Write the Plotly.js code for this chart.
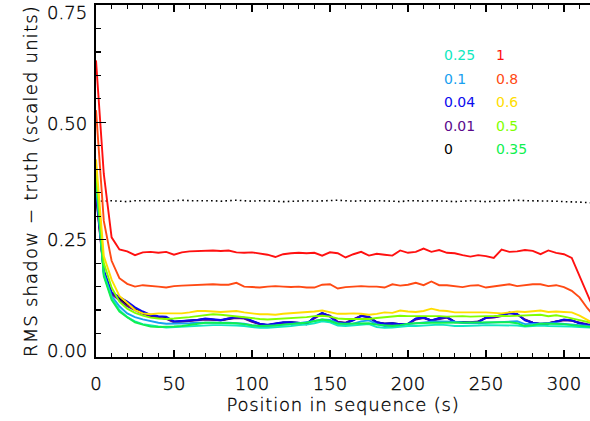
<!DOCTYPE html>
<html>
<head>
<meta charset="utf-8">
<script src="https://cdn.plot.ly/plotly-3.0.1.min.js"></script>
<style>
  html, body { margin: 0; padding: 0; background: #fff; }
  #chart { width: 590px; height: 421px; }
  .xtitle { letter-spacing: 0.8px; }
  .ytitle { letter-spacing: 1.2px; }
  svg text[style*="font-weight: 300"] { stroke: #000; stroke-width: 0.35px; }
</style>
</head>
<body>
<div id="chart"></div>
<script>
// Position in sequence (s)
const positions = [0,5,10,15,20,25,30,35,40,45,50,55,60,65,70,75,80,85,90,95,100,105,110,115,120,125,130,135,140,145,150,155,160,165,170,175,180,185,190,195,200,205,210,215,220,225,230,235,240,245,250,255,260,265,270,275,280,285,290,295,300,305,310,315,320];

// Reference level (dotted black line)
const referenceLevel = [0.333,0.332,0.333,0.332,0.331,0.333,0.333,0.334,0.333,0.332,0.333,0.334,0.333,0.333,0.334,0.333,0.332,0.333,0.334,0.333,0.332,0.333,0.333,0.332,0.331,0.332,0.333,0.333,0.332,0.333,0.333,0.334,0.333,0.332,0.333,0.332,0.333,0.333,0.332,0.331,0.333,0.333,0.332,0.333,0.333,0.332,0.331,0.332,0.333,0.332,0.331,0.332,0.333,0.333,0.334,0.333,0.333,0.332,0.333,0.332,0.331,0.331,0.330,0.329,0.328];

// Series, keyed by parameter value
const s0 = [0.350,0.182,0.136,0.123,0.112,0.102,0.094,0.088,0.086,0.083,0.075,0.076,0.078,0.079,0.081,0.080,0.078,0.081,0.084,0.083,0.076,0.070,0.068,0.071,0.073,0.074,0.072,0.071,0.084,0.093,0.087,0.074,0.072,0.079,0.088,0.085,0.074,0.071,0.072,0.070,0.070,0.081,0.084,0.078,0.082,0.085,0.075,0.074,0.073,0.075,0.084,0.085,0.088,0.095,0.091,0.079,0.073,0.070,0.072,0.076,0.079,0.078,0.072,0.069,0.067];
const s001 = [0.345,0.180,0.134,0.120,0.108,0.100,0.092,0.087,0.085,0.081,0.074,0.075,0.077,0.078,0.080,0.079,0.078,0.082,0.083,0.082,0.075,0.070,0.068,0.071,0.073,0.073,0.072,0.070,0.082,0.092,0.088,0.075,0.073,0.080,0.088,0.084,0.073,0.071,0.071,0.069,0.070,0.080,0.083,0.077,0.081,0.084,0.074,0.074,0.074,0.076,0.083,0.084,0.087,0.094,0.091,0.080,0.073,0.071,0.072,0.075,0.078,0.077,0.073,0.070,0.068];
const s004 = [0.360,0.185,0.138,0.128,0.118,0.106,0.097,0.090,0.087,0.086,0.076,0.077,0.078,0.079,0.082,0.081,0.079,0.082,0.085,0.084,0.077,0.071,0.069,0.072,0.074,0.074,0.073,0.070,0.085,0.094,0.086,0.073,0.072,0.078,0.087,0.086,0.074,0.071,0.072,0.070,0.071,0.082,0.084,0.078,0.083,0.085,0.075,0.074,0.073,0.074,0.084,0.086,0.089,0.093,0.092,0.078,0.073,0.070,0.071,0.076,0.080,0.078,0.072,0.069,0.067];
const s01 = [0.370,0.178,0.130,0.108,0.093,0.085,0.080,0.076,0.073,0.071,0.071,0.071,0.072,0.073,0.073,0.074,0.073,0.073,0.072,0.071,0.068,0.066,0.066,0.067,0.069,0.070,0.072,0.074,0.077,0.080,0.079,0.072,0.070,0.071,0.076,0.078,0.070,0.066,0.066,0.067,0.070,0.072,0.073,0.075,0.076,0.076,0.075,0.073,0.072,0.072,0.073,0.074,0.074,0.076,0.076,0.070,0.071,0.071,0.072,0.072,0.071,0.070,0.068,0.066,0.065];
const s025 = [0.380,0.175,0.126,0.100,0.085,0.076,0.070,0.067,0.065,0.063,0.064,0.065,0.066,0.067,0.068,0.068,0.068,0.068,0.067,0.066,0.064,0.062,0.062,0.063,0.065,0.066,0.068,0.069,0.072,0.076,0.074,0.067,0.066,0.067,0.069,0.070,0.064,0.062,0.063,0.065,0.066,0.066,0.067,0.069,0.069,0.068,0.066,0.066,0.066,0.067,0.068,0.068,0.068,0.068,0.067,0.065,0.066,0.067,0.066,0.066,0.066,0.065,0.064,0.063,0.062];
const s035 = [0.390,0.172,0.122,0.097,0.085,0.074,0.069,0.065,0.064,0.064,0.065,0.066,0.068,0.071,0.073,0.073,0.073,0.073,0.072,0.070,0.067,0.066,0.066,0.067,0.069,0.071,0.072,0.073,0.076,0.080,0.077,0.071,0.071,0.071,0.071,0.072,0.069,0.067,0.066,0.068,0.071,0.072,0.073,0.073,0.073,0.073,0.073,0.073,0.073,0.073,0.073,0.073,0.074,0.074,0.072,0.066,0.068,0.071,0.071,0.071,0.070,0.068,0.066,0.064,0.063];
const s05 = [0.400,0.200,0.148,0.118,0.103,0.094,0.088,0.084,0.082,0.081,0.082,0.083,0.085,0.087,0.089,0.091,0.090,0.088,0.087,0.085,0.082,0.081,0.080,0.081,0.081,0.082,0.083,0.085,0.087,0.088,0.086,0.082,0.081,0.081,0.082,0.081,0.083,0.085,0.086,0.088,0.087,0.087,0.088,0.088,0.087,0.086,0.087,0.087,0.086,0.087,0.087,0.087,0.088,0.087,0.088,0.088,0.089,0.090,0.087,0.089,0.086,0.082,0.078,0.074,0.071];
const s06 = [0.421,0.215,0.165,0.130,0.115,0.100,0.093,0.091,0.093,0.093,0.094,0.093,0.095,0.098,0.098,0.097,0.096,0.097,0.098,0.095,0.093,0.091,0.091,0.090,0.092,0.093,0.095,0.095,0.097,0.099,0.096,0.092,0.092,0.093,0.092,0.090,0.092,0.095,0.094,0.099,0.097,0.096,0.098,0.103,0.099,0.098,0.095,0.095,0.096,0.095,0.095,0.094,0.093,0.095,0.097,0.096,0.097,0.099,0.096,0.097,0.096,0.095,0.088,0.078,0.070];
const s08 = [0.526,0.290,0.205,0.168,0.156,0.150,0.153,0.152,0.150,0.148,0.151,0.152,0.153,0.154,0.154,0.155,0.154,0.154,0.158,0.150,0.149,0.148,0.150,0.151,0.150,0.149,0.150,0.148,0.148,0.154,0.155,0.146,0.149,0.150,0.151,0.150,0.150,0.148,0.155,0.152,0.154,0.158,0.153,0.161,0.153,0.153,0.151,0.149,0.152,0.153,0.148,0.150,0.152,0.155,0.151,0.153,0.155,0.155,0.151,0.153,0.149,0.141,0.127,0.104,0.085];
const s1 = [0.632,0.390,0.255,0.229,0.225,0.217,0.223,0.224,0.222,0.224,0.218,0.223,0.225,0.226,0.226,0.227,0.226,0.227,0.223,0.222,0.223,0.220,0.218,0.213,0.219,0.221,0.222,0.221,0.222,0.216,0.223,0.221,0.212,0.219,0.224,0.216,0.220,0.218,0.216,0.227,0.222,0.224,0.231,0.224,0.228,0.222,0.221,0.217,0.214,0.217,0.215,0.211,0.229,0.224,0.225,0.228,0.226,0.219,0.227,0.222,0.219,0.211,0.172,0.133,0.095];

// Legend labels and colours (drawing order)
const seriesLabels = ['0', '0.01', '0.04', '0.1', '0.25', '0.35', '0.5', '0.6', '0.8', '1'];
const seriesData = [s0, s001, s004, s01, s025, s035, s05, s06, s08, s1];
const seriesColors = ['#000000', '#5a0a8c', '#0a0aee', '#18a0f0', '#10e8c0', '#10f050', '#80ff00', '#ffdd00', '#ff4a14', '#ff1010'];

// Legend layout: column 1 (top to bottom), column 2 (top to bottom)
const legendCol1 = ['0.25', '0.1', '0.04', '0.01', '0'];
const legendCol2 = ['1', '0.8', '0.6', '0.5', '0.35'];

// Y tick labels
const yTickVals = [0, 0.25, 0.5, 0.75];
const yTickText = ['0.00', '0.25', '0.50', '0.75'];
const yTickShift = [7, 0, -1, -7];

const FONT = 'DejaVu Sans';

const traces = [];
traces.push({
  x: positions, y: referenceLevel, type: 'scatter', mode: 'lines',
  line: { color: '#000', width: 1.6, dash: '1.6px,3.2px' },
  hoverinfo: 'skip', showlegend: false
});
seriesData.forEach((d, i) => {
  traces.push({
    x: positions, y: d, type: 'scatter', mode: 'lines',
    name: seriesLabels[i],
    line: { color: seriesColors[i], width: 1.9 },
    showlegend: false
  });
});

const annotations = [];
const colX = [0.70, 0.806];
const rowY = [0.857, 0.790, 0.724, 0.656, 0.590];
[legendCol1, legendCol2].forEach((col, c) => {
  col.forEach((lab, r) => {
    const idx = seriesLabels.indexOf(lab);
    annotations.push({
      xref: 'paper', yref: 'paper', x: colX[c], y: rowY[r],
      xanchor: 'left', yanchor: 'middle', showarrow: false,
      text: lab, font: { family: FONT, size: 14, color: seriesColors[idx], weight: 400 }
    });
  });
});
yTickVals.forEach((v, i) => {
  annotations.push({
    xref: 'paper', yref: 'y', x: 0, y: v, xshift: -7, yshift: yTickShift[i],
    xanchor: 'right', yanchor: 'middle', showarrow: false,
    text: yTickText[i], font: { family: FONT, size: 18, color: '#000', weight: 300 }
  });
});

const layout = {
  width: 590, height: 421,
  margin: { l: 96, r: 0, t: 5, b: 64, pad: 0 },
  paper_bgcolor: '#fff', plot_bgcolor: '#fff',
  showlegend: false,
  font: { family: FONT, size: 18, color: '#000', weight: 300 },
  xaxis: {
    range: [0, 316.7], autorange: false,
    tickmode: 'linear', tick0: 0, dtick: 50,
    ticks: 'inside', ticklen: 7, tickwidth: 1.5, tickcolor: '#000',
    minor: { ticks: 'inside', dtick: 10, ticklen: 4, tickwidth: 1.2, tickcolor: '#000' },
    showline: true, linecolor: '#000', linewidth: 2, mirror: 'ticks',
    showgrid: false, zeroline: false,
    ticklabelstandoff: 9, ticklabeloverflow: 'allow',
    tickfont: { family: FONT, size: 18, color: '#000', weight: 300 },
    title: { text: 'Position in sequence (s)', font: { family: FONT, size: 18, weight: 300 }, standoff: 6 },
    automargin: false
  },
  yaxis: {
    range: [0, 0.75], autorange: false,
    tickmode: 'array', tickvals: yTickVals, showticklabels: false,
    ticks: 'inside', ticklen: 10, tickwidth: 1.5, tickcolor: '#000',
    minor: { ticks: 'inside', dtick: 0.05, ticklen: 5, tickwidth: 1.2, tickcolor: '#000' },
    showline: true, linecolor: '#000', linewidth: 2, mirror: false,
    showgrid: false, zeroline: false,
    title: { text: 'RMS shadow − truth (scaled units)', font: { family: FONT, size: 18, weight: 300 }, standoff: 52 },
    automargin: false
  },
  annotations: annotations
};

Plotly.newPlot('chart', traces, layout, { staticPlot: true, displayModeBar: false });
</script>
</body>
</html>
